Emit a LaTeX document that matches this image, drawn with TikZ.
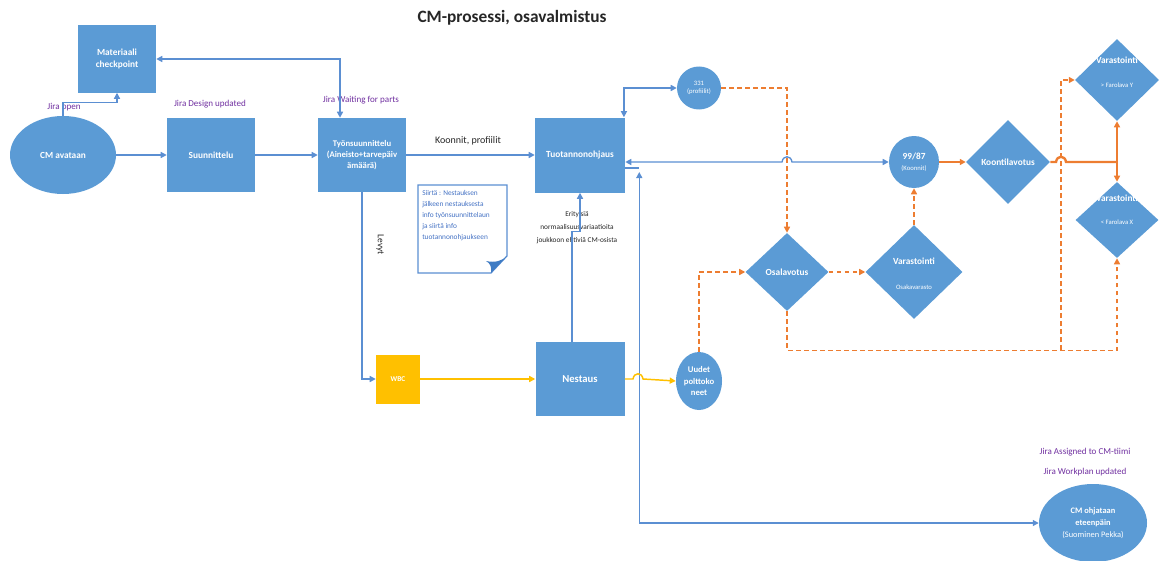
\documentclass[tikz,border=0pt]{standalone}
\usepackage{fontspec}
\setmainfont{Carlito}
\usetikzlibrary{arrows.meta,shapes.geometric}
\definecolor{boxblue}{HTML}{5B9BD5}
\definecolor{lineblue}{HTML}{5B8FD2}
\definecolor{curlblue}{HTML}{3F7CC4}
\definecolor{orng}{HTML}{ED7D31}
\definecolor{ylw}{HTML}{FFC000}
\definecolor{jira}{HTML}{7030A0}
\definecolor{notetext}{HTML}{4472C4}
\definecolor{ttl}{HTML}{262626}
\newcommand{\fsz}[2]{\fontsize{#1}{#2}\selectfont}

\begin{document}
\begin{tikzpicture}[x=0.75pt,y=-0.75pt,
  >={Triangle[length=4.5pt,width=4.5pt]},
  box/.style={rectangle, fill=boxblue, text=white, align=center, font=\bfseries\fsz{7}{8.5}, inner sep=1pt},
  ell/.style={ellipse, fill=boxblue, inner sep=0pt},
  dia/.style={diamond, fill=boxblue, inner sep=0pt},
  wl/.style={text=white, align=center, font=\bfseries\fsz{7}{8.5}, inner sep=0pt},
  ws/.style={text=white, align=center, font=\fsz{5}{6.5}, inner sep=0pt},
  jiral/.style={text=jira, font=\fsz{6.8}{8}, inner sep=1pt},
  plain/.style={text=ttl, inner sep=1pt},
  bl/.style={draw=lineblue, line width=1pt},
  od/.style={draw=orng, line width=1.1pt, dash pattern=on 3.5pt off 2.5pt},
  os/.style={draw=orng, line width=1.8pt},
  yl/.style={draw=ylw, line width=1.1pt},
]
\useasboundingbox (0,0) rectangle (1162,560);

% title
\node[font=\bfseries\fsz{13}{15}, text=ttl] (title) at (512,18) {CM-prosessi, osavalmistus};

% left part of the process
\node[box, minimum width=58.5pt, minimum height=50.25pt] (mat) at (117,59) {Materiaali\\checkpoint};
\node[ell, minimum width=79.5pt, minimum height=58.5pt, label={[wl]center:CM avataan}] (cma) at (63,155) {};
\node[box, minimum width=66pt, minimum height=55.5pt] (sun) at (211,155) {Suunnittelu};
\node[box, minimum width=66pt, minimum height=55.5pt, font=\bfseries\fsz{6.5}{8.5}] (tyo) at (362,155) {Työnsuunnittelu\\(Aineisto+tarvepäiv\\ämäärä)};
\node[box, minimum width=67.5pt, minimum height=56.25pt] (tuo) at (580,155) {Tuotannonohjaus};
\node[box, fill=ylw, minimum width=33pt, minimum height=36.75pt, font=\bfseries\fsz{5.5}{6}] (wbc) at (398,379) {WBC};
\node[box, minimum width=66.75pt, minimum height=55.5pt, font=\bfseries\fsz{8}{9}] (nes) at (580,379) {Nestaus};

% circles
\node[ell, minimum width=33pt, minimum height=32.25pt, label={[ws]center:{331\\(profiilit)}}] (c331) at (699,88) {};
\node[ell, minimum width=37.5pt, minimum height=39pt, label={[wl]center:{99/87\\{\mdseries\fsz{5}{7}(Koonnit)}}}] (c99) at (914,162) {};
\node[ell, minimum width=34.5pt, minimum height=43.5pt, label={[wl,font=\bfseries\fsz{6.5}{8.5}]center:{Uudet\\polttoko\\neet}}] (uud) at (699,381) {};
\node[ell, minimum width=81pt, minimum height=58.5pt, label={[wl,font=\bfseries\fsz{6.3}{9}]center:{CM ohjataan\\eteenpäin\\{\mdseries(Suominen Pekka)}}}] (cmo) at (1093,523) {};

% decisions and storage
\node[dia, minimum width=62.25pt, minimum height=58.5pt, label={[wl]center:Osalavotus}] (osa) at (787,272) {};
\node[dia, minimum width=72.75pt, minimum height=70.5pt, label={[wl,yshift=8.25pt]center:Varastointi}, label={[ws,yshift=-11.25pt]center:Osakavarasto}] (var) at (914,272) {};
\node[dia, minimum width=63pt, minimum height=63pt, label={[wl]center:Koontilavotus}] (koo) at (1008,162) {};
\node[dia, minimum width=63pt, minimum height=61.5pt, label={[wl,yshift=15pt]center:Varastointi}, label={[ws,yshift=-3.75pt]center:{> Farolava Y}}] (vary) at (1117,80) {};
\node[dia, minimum width=62.25pt, minimum height=57pt, label={[wl,yshift=16.5pt]center:Varastointi}, label={[ws,yshift=-1.5pt]center:{< Farolava X}}] (varx) at (1117,220) {};

% Jira states
\node[jiral] (j1) at (64,107) {Jira open};
\node[jiral] (j2) at (210,104) {Jira Design updated};
\node[jiral] (j3) at (361,100) {Jira Waiting for parts};
\node[jiral] (j4) at (1085,452) {Jira Assigned to CM-tiimi};
\node[jiral] (j5) at (1085,472) {Jira Workplan updated};

% other texts
\node[plain, font=\fsz{7.5}{9}] (kp) at (468,141) {Koonnit, profiilit};
\node[plain, font=\fsz{7}{8}, rotate=-90] (lev) at (380,245) {Levyt};
\node[plain, font=\fsz{5.5}{9.75}, align=center] (eri) at (577,228) {Erityisiä\\normaalisuusvariaatioita\\joukkoon ehtiviä CM-osista};

% note with folded corner
\draw[lineblue, line width=0.9pt, fill=white] (418,185) -- (507,185) -- (507,256) -- (491,273) -- (418,273) -- cycle;
\fill[curlblue] (507,256) -- (491,273) .. controls (492,267) and (490,263) .. (486,261) .. controls (495,263) and (502,261) .. (507,256) -- cycle;
\node[font=\fsz{5.5}{8.25}, text=notetext, align=left, anchor=north west, inner sep=0pt] (note) at (422,190) {Siirtä : Nestauksen\\jälkeen nestauksesta\\info työnsuunnittelaun\\ja siirtä info\\tuotannonohjaukseen};

% blue connectors
\draw[bl,->] (cma.north) -- ++(0,-13) -| (mat.south);
\draw[bl,<->] (mat.east) -| ([xshift=-16.5pt]tyo.north);
\draw[bl,->] (cma.east) -- (sun.west);
\draw[bl,->] (sun.east) -- (tyo.west);
\draw[bl,->] (tyo.east) -- (tuo.west);
\draw[bl,->] (tyo.south) |- (wbc.west);
\draw[bl,->] ([xshift=-6pt]nes.north) -- ++(0,-110) -| (tuo.south);
\draw[bl] ([yshift=-9.75pt]tuo.east) -- ++(14,0) coordinate (tj);
\draw[bl,<->] ([yshift=-3pt]tj) |- (cmo.west);
\draw[bl,<->] ([xshift=-1pt]tuo.north east) |- (c331.west);
\draw[bl,<->] ([yshift=-5.25pt]tuo.east) -- (782,162) .. controls (783,155) and (791,155) .. (792,162) -- (c99.west);

% yellow connectors
\draw[yl,->] (wbc.east) -- (nes.west);
\draw[yl,->] (nes.east) -- (633,379) .. controls (634,372) and (642,372) .. (643,379) -- (uud.west);

% orange connectors
\draw[od,->] (c331.east) -| (osa.north);
\draw[od,->] (uud.north) |- (osa.west);
\draw[od,->] (osa.east) -- (var.west);
\draw[od,->] (var.north) -- (c99.south);
\draw[od,->] (osa.south) -- ++(0,39) -| (varx.south);
\coordinate (dj) at (1061,350);
\draw[od,->] (dj) |- (vary.west);
\draw[os,->] (c99.east) -- (koo.west);
\draw[os] (koo.east) -- (1056,162) .. controls (1057,155) and (1065,155) .. (1066,162) -- (1117,162) coordinate (kj);
\draw[os,->] (kj) -- (vary.south);
\draw[os,->] (kj) -- (varx.north);
\end{tikzpicture}
\end{document}
